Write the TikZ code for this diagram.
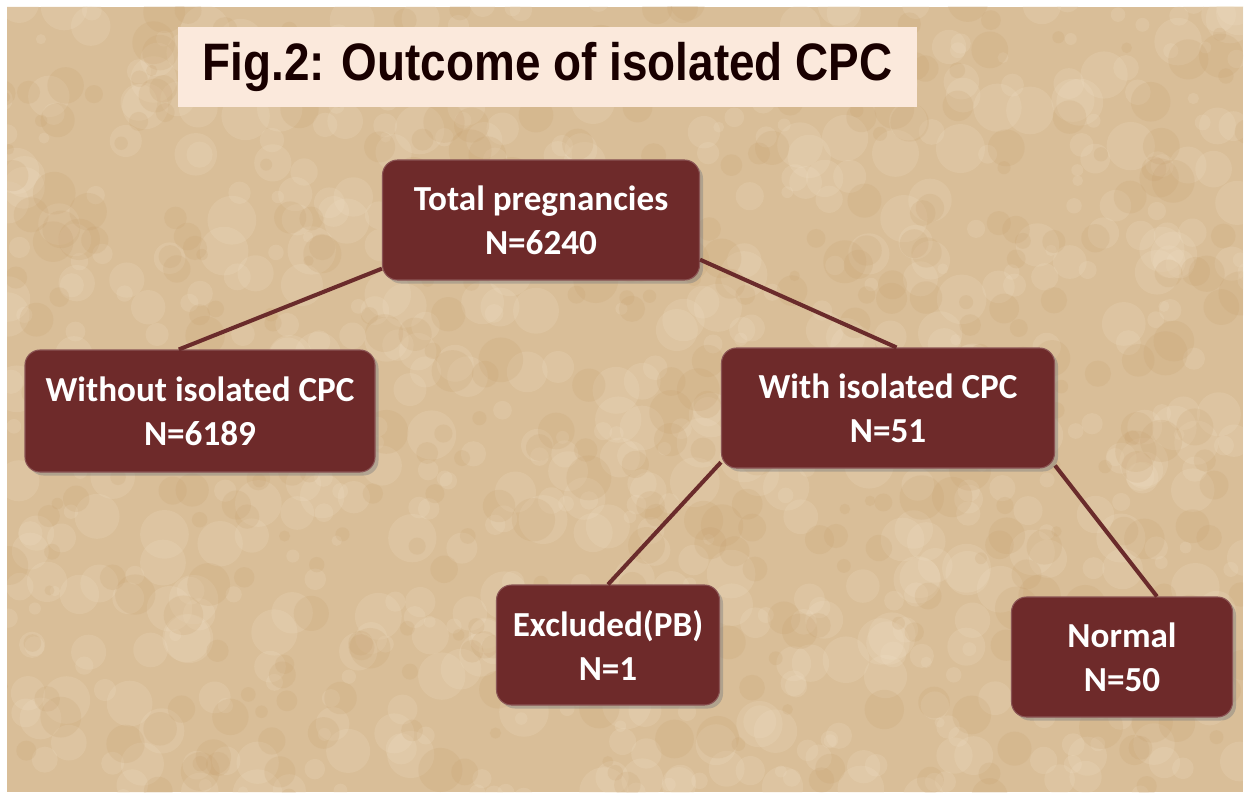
\documentclass[tikz,border=0pt]{standalone}
\usepackage{fontspec}
\setmainfont{Carlito}
\newfontfamily\titlefont[FakeStretch=0.87]{Liberation Sans}
\usetikzlibrary{shadows}

\definecolor{paper}{HTML}{D9BE98}
\definecolor{paperlight}{HTML}{F0E0C6}
\definecolor{paperdark}{HTML}{C0965F}
\definecolor{titlefill}{HTML}{FBE9DC}
\definecolor{maroon}{HTML}{6E2A2A}
\definecolor{linkcol}{HTML}{6A2B2B}

\tikzset{
  box/.style={draw=maroon!80!white, line width=0.6pt, fill=maroon, rounded corners=0.3cm,
    minimum height=2.4cm, align=center, text=white,
    font=\fontsize{20}{25}\selectfont\bfseries,
    drop shadow={shadow xshift=2pt, shadow yshift=-2pt, opacity=0.45}},
  link/.style={draw=linkcol, line width=2.3pt}
}

\begin{document}
\begin{tikzpicture}

  % 页面与纸张底纹
  \useasboundingbox (0,0) rectangle (25,15.98);
  \fill[white] (0,0) rectangle (25,15.98);
  \fill[paper] (0.14,0.14) rectangle (24.86,15.84);
  \begin{scope}
    \clip (0.14,0.14) rectangle (24.86,15.84);
    \pgfmathsetseed{11}
    \foreach \i in {1,...,700}{
      \pgfmathsetmacro\rx{rnd*25}
      \pgfmathsetmacro\ry{rnd*16}
      \pgfmathsetmacro\rr{0.1+rnd*0.4}
      \fill[paperlight, opacity=0.2] (\rx,\ry) circle (\rr);
    }
    \foreach \i in {1,...,400}{
      \pgfmathsetmacro\rx{rnd*25}
      \pgfmathsetmacro\ry{rnd*16}
      \pgfmathsetmacro\rr{0.1+rnd*0.35}
      \fill[paperdark, opacity=0.14] (\rx,\ry) circle (\rr);
    }
  \end{scope}

  % 标题
  \node[fill=titlefill, minimum width=14.78cm, minimum height=1.6cm,
        font=\titlefont\fontsize{30}{34}\selectfont\bfseries, text=black!90!red] (title)
        at (10.95,14.64) {Fig.2: Outcome of isolated CPC};

  % 方框
  \node[box, minimum width=6.34cm] (total) at (10.82,11.58) {Total pregnancies\\N=6240};
  \node[box, minimum width=7.0cm, minimum height=2.44cm] (without) at (4.0,7.76) {Without isolated CPC\\N=6189};
  \node[box, minimum width=6.66cm] (with) at (17.76,7.82) {With isolated CPC\\N=51};
  \node[box, minimum width=4.46cm] (excl) at (12.16,3.08) {Excluded(PB)\\N=1};
  \node[box, minimum width=4.42cm] (normal) at (22.44,2.84) {Normal\\N=50};

  % 连线
  \draw[link] (total.197) -- (without.109);
  \draw[link] (total.346) -- (with.82);
  \draw[link] (with.198) -- (excl.north);
  \draw[link] (with.341) -- (normal.60);

\end{tikzpicture}
\end{document}
